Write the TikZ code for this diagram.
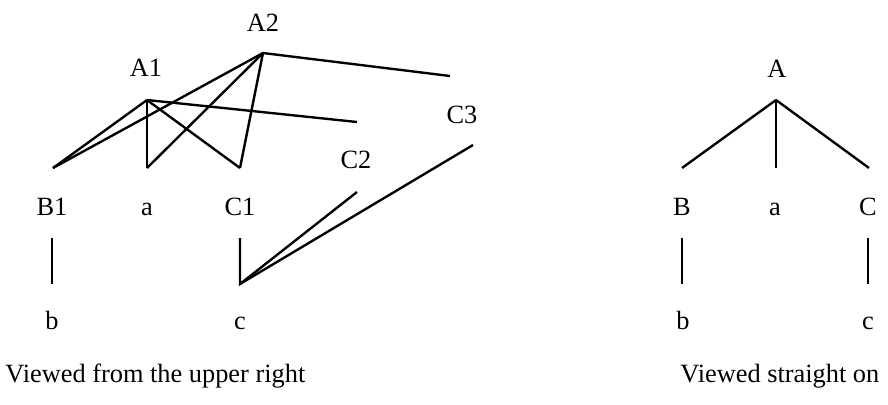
\documentclass[tikz,border=0pt]{standalone}
\usepackage{fontspec}
\setmainfont{Liberation Serif}
\definecolor{ink}{RGB}{0,0,0}
\tikzset{
  lbl/.style  = {font=\fontsize{15}{18}\selectfont, text=ink, anchor=base, inner sep=0pt},
  capt/.style = {lbl, anchor=base west},
  tie/.style  = {draw=ink, line width=1.35pt},
}

\begin{document}
\begin{tikzpicture}
\useasboundingbox (0,0) rectangle (177.6mm,-80.8mm);

% ======================================================= left : viewed from the upper right
% joints of the branches (the labels sit a little apart from them)
\coordinate (a2apex) at (52.6mm,-10.6mm);
\coordinate (a2tail) at (90mm,-15.2mm);
\coordinate (a1apex) at (29.4mm,-20mm);
\coordinate (a1tail) at (71.4mm,-24.4mm);
\coordinate (b1up)   at (10.6mm,-33.6mm);
\coordinate (aup)    at (29.4mm,-33.6mm);
\coordinate (c1up)   at (48mm,-33.6mm);
\coordinate (c2tail) at (71.4mm,-38.4mm);
\coordinate (c3tail) at (94.6mm,-29mm);
\coordinate (b1dn)   at (10.4mm,-47.6mm);
\coordinate (bfoot)  at (10.4mm,-56.8mm);
\coordinate (c1dn)   at (48mm,-47.6mm);
\coordinate (cfoot)  at (48mm,-56.8mm);

\node[lbl] (A2) at (52.6mm,-6.2mm)  {A2};
\node[lbl] (A1) at (29.2mm,-15.2mm) {A1};
\node[lbl] (C3) at (92.4mm,-24.6mm) {C3};
\node[lbl] (C2) at (71.2mm,-33.7mm) {C2};
\node[lbl] (B1) at (10.4mm,-43mm)   {B1};
\node[lbl] (aL) at (29.4mm,-43mm)   {a};
\node[lbl] (C1) at (48mm,-43mm)     {C1};
\node[lbl] (bL) at (10.4mm,-65.8mm) {b};
\node[lbl] (cL) at (48mm,-65.8mm)   {c};
\node[capt] (capL) at (1mm,-76.4mm) {Viewed from the upper right};

\foreach \t in {b1up,aup,c1up,a1tail}{\draw[tie] (a1apex) -- (\t);}
\foreach \t in {b1up,aup,c1up,a2tail}{\draw[tie] (a2apex) -- (\t);}
\draw[tie] (b1dn) -- (bfoot);
\draw[tie] (c1dn) -- (cfoot) -- (c3tail);
\draw[tie] (cfoot) -- (c2tail);

% ======================================================= right : viewed straight on
\coordinate (aapex) at (155.2mm,-20mm);
\coordinate (bup)   at (136.4mm,-33.6mm);
\coordinate (amid)  at (155.2mm,-33.6mm);
\coordinate (cup)   at (173.8mm,-33.6mm);
\coordinate (bdn)   at (136.4mm,-47.6mm);
\coordinate (bbot)  at (136.4mm,-56.8mm);
\coordinate (cdn)   at (173.6mm,-47.6mm);
\coordinate (cbot)  at (173.6mm,-56.8mm);

\node[lbl] (A)  at (155.4mm,-15.4mm) {A};
\node[lbl] (B)  at (136.4mm,-43mm)   {B};
\node[lbl] (aR) at (155mm,-43mm)     {a};
\node[lbl] (C)  at (173.6mm,-43mm)   {C};
\node[lbl] (bR) at (136.6mm,-65.8mm) {b};
\node[lbl] (cR) at (173.6mm,-65.8mm) {c};
\node[capt] (capR) at (136mm,-76.4mm) {Viewed straight on};

\foreach \t in {bup,amid,cup}{\draw[tie] (aapex) -- (\t);}
\draw[tie] (bdn) -- (bbot);
\draw[tie] (cdn) -- (cbot);

\end{tikzpicture}
\end{document}
